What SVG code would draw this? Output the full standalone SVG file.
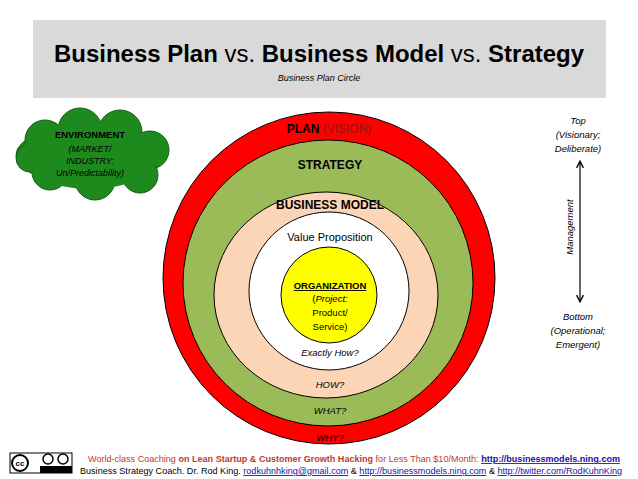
<svg xmlns="http://www.w3.org/2000/svg" width="638" height="479" viewBox="0 0 638 479">
<style>
text{font-family:"Liberation Sans",Arial,sans-serif;fill:#000}
.b{font-weight:bold}
.i{font-style:italic}
.c{text-anchor:middle}
.ring{stroke:#000;stroke-width:1}
.lnk{fill:#1a0dab;text-decoration:underline;font-weight:bold}
</style>
<defs>
<marker id="ah" viewBox="0 0 10 10" refX="8" refY="5" markerWidth="7" markerHeight="7" orient="auto-start-reverse"><path d="M1,1 L9,5 L1,9" fill="none" stroke="#000" stroke-width="1.6"/></marker>
</defs>
<rect width="638" height="479" fill="#fff"/>
<g id="header">
<rect x="33" y="20" width="573" height="78" fill="#d9d9d9"/>
<text x="319" y="62" class="c" font-size="23" textLength="530" lengthAdjust="spacingAndGlyphs"><tspan class="b">Business Plan</tspan> vs. <tspan class="b">Business Model</tspan> vs. <tspan class="b">Strategy</tspan></text>
<text x="319" y="81" class="c i" font-size="9">Business Plan Circle</text>
</g>
<g id="circles">
<ellipse id="plan" class="ring" cx="329" cy="278" rx="166" ry="166" fill="#ff0000"/>
<ellipse id="strategy" class="ring" cx="328" cy="283" rx="145" ry="143" fill="#9bbb59"/>
<ellipse id="bm" class="ring" cx="326" cy="295" rx="112" ry="103" fill="#fbd5b5"/>
<ellipse id="vp" class="ring" cx="329" cy="291" rx="80" ry="79" fill="#fff"/>
<circle id="org" class="ring" cx="329" cy="295" r="48" fill="#ffff00"/>
<text x="329" y="133" class="c b" font-size="12"><tspan fill="#000">PLAN</tspan> <tspan fill="#8b1a1a" font-weight="normal">(VISION)</tspan></text>
<text x="330" y="169" class="c b" font-size="12">STRATEGY</text>
<text x="330" y="209" class="c b" font-size="12">BUSINESS MODEL</text>
<text x="330" y="241" class="c" font-size="11">Value Proposition</text>
<text x="330" y="289" class="c b" font-size="9.5" text-decoration="underline">ORGANIZATION</text>
<text x="330" y="302" class="c" font-size="9.5">(<tspan class="i">Project:</tspan></text>
<text x="330" y="316" class="c" font-size="9.5">Product/</text>
<text x="330" y="330" class="c" font-size="9.5">Service)</text>
<text x="330" y="356" class="c i" font-size="9.5">Exactly How?</text>
<text x="330" y="388" class="c i" font-size="9.5">HOW?</text>
<text x="330" y="414" class="c i" font-size="9.5">WHAT?</text>
<text x="330" y="441" class="c i" font-size="9.5" fill="#8b1a1a">WHY?</text>
</g>
<g id="environment">
<g fill="#1e8a1e" stroke="#135e13" stroke-width="1">
<ellipse cx="90" cy="155" rx="74" ry="30"/>
<circle cx="45" cy="140" r="20"/><circle cx="80" cy="130" r="22"/><circle cx="120" cy="132" r="22"/>
<circle cx="150" cy="150" r="19"/><circle cx="140" cy="175" r="18"/><circle cx="95" cy="180" r="20"/>
<circle cx="50" cy="172" r="18"/><circle cx="30" cy="158" r="14"/>
</g>
<ellipse cx="90" cy="155" rx="68" ry="34" fill="#1e8a1e"/>
<text x="90" y="138" class="c b" font-size="9.5" fill="#fff">ENVIRONMENT</text>
<text x="90" y="152" class="c i" font-size="9" fill="#fff">(MARKET/</text>
<text x="90" y="164" class="c i" font-size="9" fill="#fff">INDUSTRY:</text>
<text x="90" y="176" class="c i" font-size="9" fill="#fff">Un/Predictability)</text>
</g>
<g id="management">
<text x="578" y="124" class="c i" font-size="9.5">Top</text>
<text x="578" y="138" class="c i" font-size="9.5">(Visionary;</text>
<text x="578" y="152" class="c i" font-size="9.5">Deliberate)</text>
<text x="578" y="320" class="c i" font-size="9.5">Bottom</text>
<text x="578" y="334" class="c i" font-size="9.5">(Operational;</text>
<text x="578" y="348" class="c i" font-size="9.5">Emergent)</text>
<text transform="translate(573,227) rotate(-90)" class="c i" font-size="9.5">Management</text>
</g>
<g id="connectors">
<line x1="580" y1="162" x2="580" y2="301" stroke="#000" stroke-width="1.2" marker-start="url(#ah)" marker-end="url(#ah)"/>
</g>
<g id="footer">
<rect x="10" y="453" width="62" height="20" fill="#fff" stroke="#000"/>
<rect x="40" y="466" width="32" height="7" fill="#000"/>
<circle cx="20" cy="463" r="8" fill="#fff" stroke="#000" stroke-width="2"/>
<text x="20" y="466" class="c b" font-size="8">cc</text>
<circle cx="48" cy="459" r="5" fill="#fff" stroke="#000" stroke-width="1.5"/>
<circle cx="63" cy="459" r="5" fill="#fff" stroke="#000" stroke-width="1.5"/>
<text x="48" y="472" class="c" font-size="5" fill="#fff">BY</text>
<text x="63" y="472" class="c" font-size="5" fill="#fff">SA</text>
<text x="88" y="462" font-size="8.6" textLength="532" lengthAdjust="spacingAndGlyphs"><tspan fill="#c0392b">World-class Coaching </tspan><tspan fill="#c0392b" class="b">on Lean Startup &amp; Customer Growth Hacking</tspan><tspan fill="#c0392b"> for Less Than $10/Month: </tspan><tspan class="lnk">http://businessmodels.ning.com</tspan></text>
<text x="80" y="474" font-size="8.6" textLength="542" lengthAdjust="spacingAndGlyphs">Business Strategy Coach. Dr. Rod King. <tspan fill="#1a0dab" text-decoration="underline">rodkuhnhking@gmail.com</tspan> &amp; <tspan fill="#1a0dab" text-decoration="underline">http://businessmodels.ning.com</tspan> &amp; <tspan fill="#1a0dab" text-decoration="underline">http://twitter.com/RodKuhnKing</tspan></text>
</g>
</svg>
